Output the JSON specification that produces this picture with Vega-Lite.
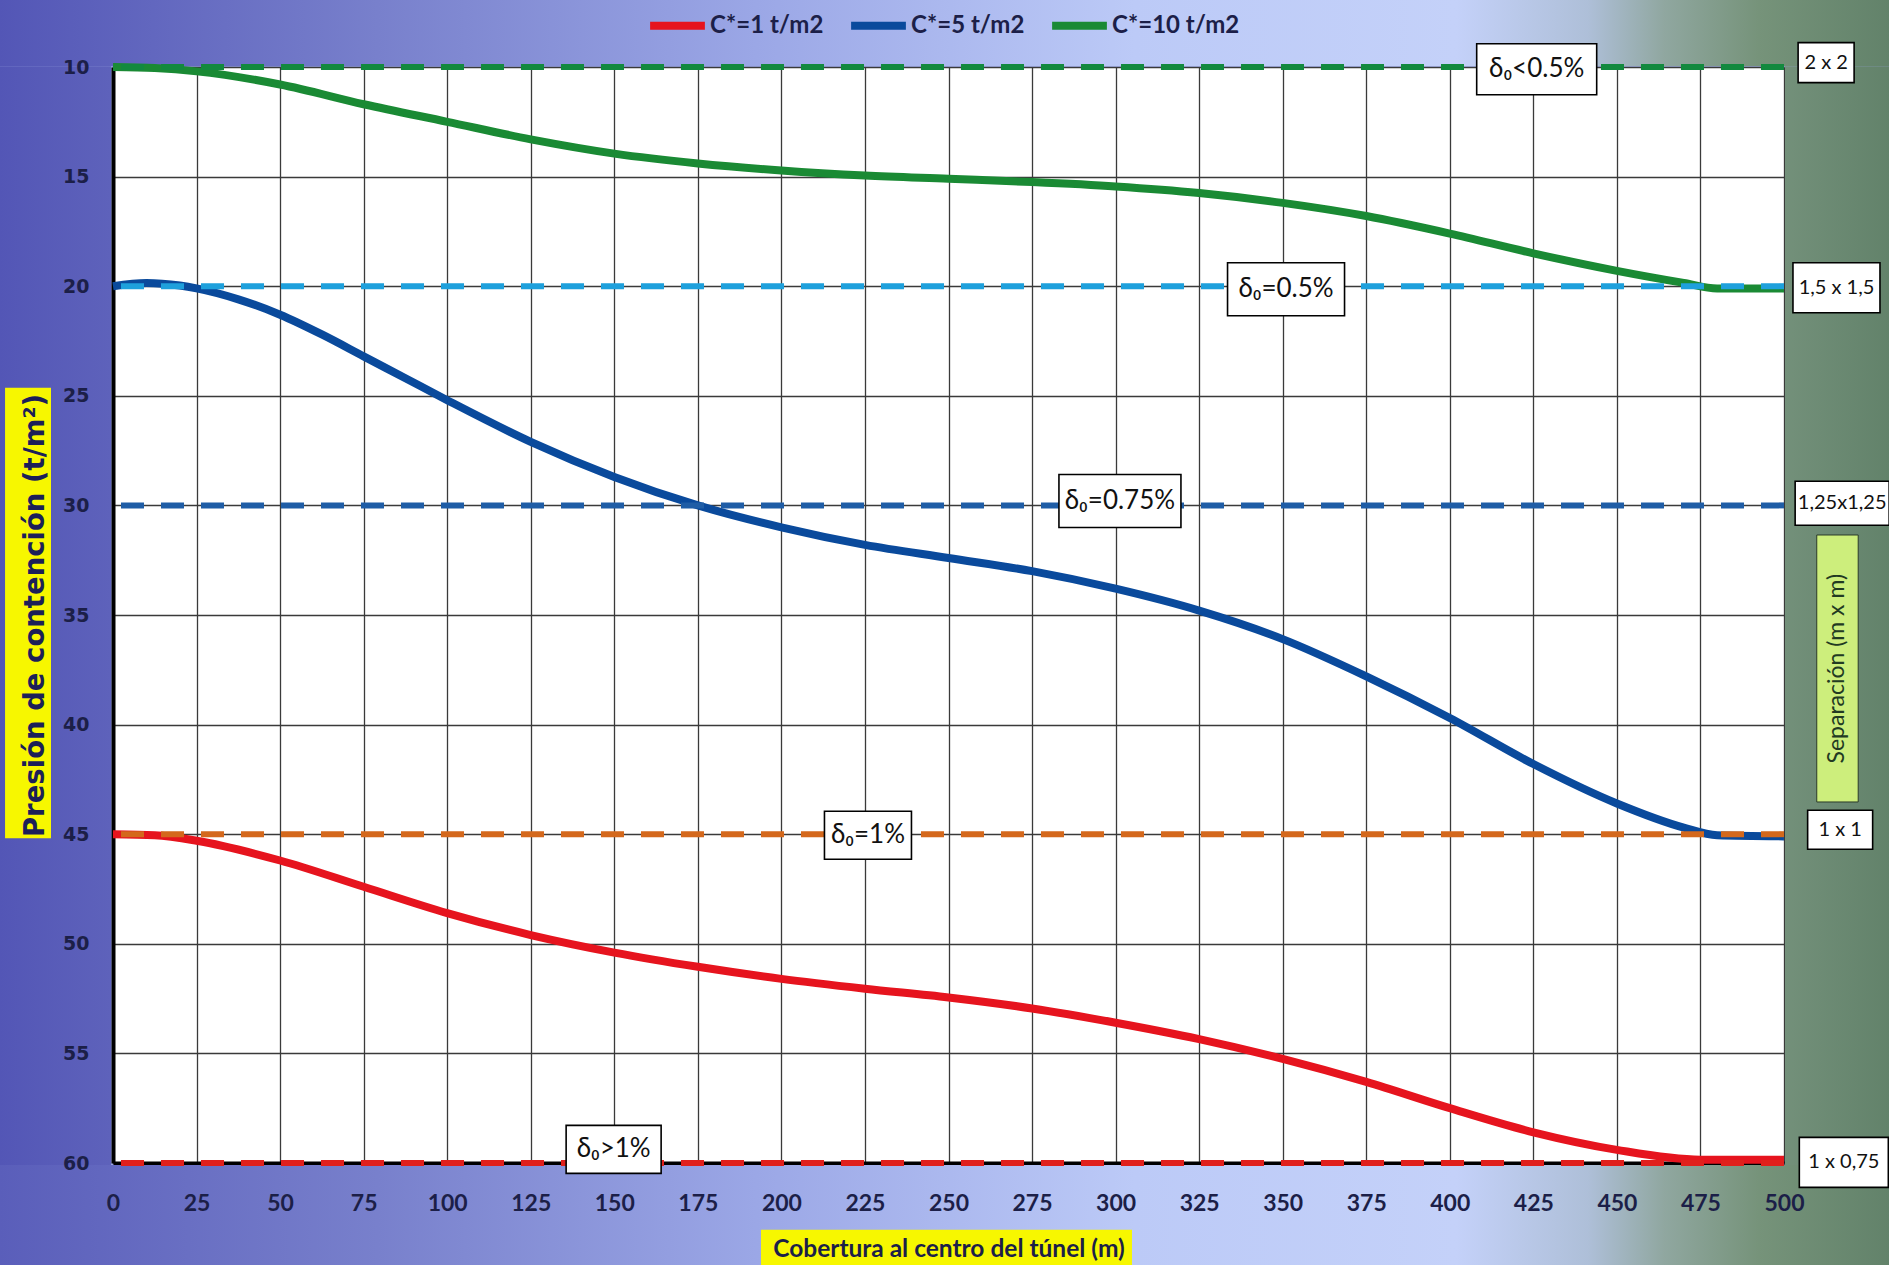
{
  "$schema": "https://vega.github.io/schema/vega-lite/v6.json",
  "width": 1671,
  "height": 1096,
  "autosize": {"type": "none"},
  "padding": {"left": 113, "top": 67, "right": 105, "bottom": 102},
  "background": "#9aa5e3",
  "config": {"view": {"stroke": null, "fill": "white"}, "font": "Lato"},
  "resolve": {"axis": {"x": "independent", "y": "independent"}},
  "datasets": {
    "curvas": [
      {"serie": "C*=1 t/m2", "x": 0, "p": 45.0}, {"serie": "C*=1 t/m2", "x": 12.5, "p": 45.05}, {"serie": "C*=1 t/m2", "x": 25, "p": 45.3},
      {"serie": "C*=1 t/m2", "x": 50, "p": 46.2}, {"serie": "C*=1 t/m2", "x": 75, "p": 47.4}, {"serie": "C*=1 t/m2", "x": 100, "p": 48.6},
      {"serie": "C*=1 t/m2", "x": 125, "p": 49.6}, {"serie": "C*=1 t/m2", "x": 150, "p": 50.4}, {"serie": "C*=1 t/m2", "x": 175, "p": 51.05},
      {"serie": "C*=1 t/m2", "x": 200, "p": 51.6}, {"serie": "C*=1 t/m2", "x": 225, "p": 52.05}, {"serie": "C*=1 t/m2", "x": 250, "p": 52.45},
      {"serie": "C*=1 t/m2", "x": 275, "p": 52.95}, {"serie": "C*=1 t/m2", "x": 300, "p": 53.6}, {"serie": "C*=1 t/m2", "x": 325, "p": 54.35},
      {"serie": "C*=1 t/m2", "x": 350, "p": 55.25}, {"serie": "C*=1 t/m2", "x": 375, "p": 56.3}, {"serie": "C*=1 t/m2", "x": 400, "p": 57.5},
      {"serie": "C*=1 t/m2", "x": 425, "p": 58.6}, {"serie": "C*=1 t/m2", "x": 450, "p": 59.4}, {"serie": "C*=1 t/m2", "x": 475, "p": 59.85},
      {"serie": "C*=1 t/m2", "x": 500, "p": 59.85},
      {"serie": "C*=5 t/m2", "x": 0, "p": 20.0}, {"serie": "C*=5 t/m2", "x": 10, "p": 19.85}, {"serie": "C*=5 t/m2", "x": 20, "p": 19.97},
      {"serie": "C*=5 t/m2", "x": 25, "p": 20.1}, {"serie": "C*=5 t/m2", "x": 37.5, "p": 20.6}, {"serie": "C*=5 t/m2", "x": 50, "p": 21.3},
      {"serie": "C*=5 t/m2", "x": 62.5, "p": 22.2}, {"serie": "C*=5 t/m2", "x": 75, "p": 23.2}, {"serie": "C*=5 t/m2", "x": 87.5, "p": 24.2},
      {"serie": "C*=5 t/m2", "x": 100, "p": 25.2}, {"serie": "C*=5 t/m2", "x": 125, "p": 27.1}, {"serie": "C*=5 t/m2", "x": 150, "p": 28.7},
      {"serie": "C*=5 t/m2", "x": 175, "p": 30.0}, {"serie": "C*=5 t/m2", "x": 200, "p": 31.0}, {"serie": "C*=5 t/m2", "x": 225, "p": 31.8},
      {"serie": "C*=5 t/m2", "x": 250, "p": 32.4}, {"serie": "C*=5 t/m2", "x": 275, "p": 33.0}, {"serie": "C*=5 t/m2", "x": 300, "p": 33.8},
      {"serie": "C*=5 t/m2", "x": 325, "p": 34.8}, {"serie": "C*=5 t/m2", "x": 350, "p": 36.1}, {"serie": "C*=5 t/m2", "x": 375, "p": 37.8},
      {"serie": "C*=5 t/m2", "x": 400, "p": 39.7}, {"serie": "C*=5 t/m2", "x": 425, "p": 41.8}, {"serie": "C*=5 t/m2", "x": 450, "p": 43.6},
      {"serie": "C*=5 t/m2", "x": 470, "p": 44.7}, {"serie": "C*=5 t/m2", "x": 480, "p": 45.05}, {"serie": "C*=5 t/m2", "x": 500, "p": 45.1},
      {"serie": "C*=10 t/m2", "x": 0, "p": 10.0}, {"serie": "C*=10 t/m2", "x": 12.5, "p": 10.05}, {"serie": "C*=10 t/m2", "x": 25, "p": 10.2},
      {"serie": "C*=10 t/m2", "x": 50, "p": 10.8}, {"serie": "C*=10 t/m2", "x": 75, "p": 11.7}, {"serie": "C*=10 t/m2", "x": 100, "p": 12.5},
      {"serie": "C*=10 t/m2", "x": 125, "p": 13.3}, {"serie": "C*=10 t/m2", "x": 150, "p": 13.95}, {"serie": "C*=10 t/m2", "x": 175, "p": 14.4},
      {"serie": "C*=10 t/m2", "x": 200, "p": 14.72}, {"serie": "C*=10 t/m2", "x": 225, "p": 14.95}, {"serie": "C*=10 t/m2", "x": 250, "p": 15.1},
      {"serie": "C*=10 t/m2", "x": 275, "p": 15.25}, {"serie": "C*=10 t/m2", "x": 300, "p": 15.45}, {"serie": "C*=10 t/m2", "x": 325, "p": 15.75},
      {"serie": "C*=10 t/m2", "x": 350, "p": 16.2}, {"serie": "C*=10 t/m2", "x": 375, "p": 16.8}, {"serie": "C*=10 t/m2", "x": 400, "p": 17.6},
      {"serie": "C*=10 t/m2", "x": 425, "p": 18.5}, {"serie": "C*=10 t/m2", "x": 450, "p": 19.3}, {"serie": "C*=10 t/m2", "x": 470, "p": 19.85},
      {"serie": "C*=10 t/m2", "x": 480, "p": 20.1}, {"serie": "C*=10 t/m2", "x": 500, "p": 20.1}
    ],
    "refs": [
      {"nivel": "δ₀<0.5%", "p": 10},
      {"nivel": "δ₀=0.5%", "p": 20},
      {"nivel": "δ₀=0.75%", "p": 30},
      {"nivel": "δ₀=1%", "p": 45},
      {"nivel": "δ₀>1%", "p": 60}
    ],
    "etiquetas": [
      {"grupo": "delta", "texto": "δ₀<0.5%", "x": 426, "p": 10.1},
      {"grupo": "delta", "texto": "δ₀=0.5%", "x": 351, "p": 20.14},
      {"grupo": "delta", "texto": "δ₀=0.75%", "x": 301.3, "p": 29.8},
      {"grupo": "delta", "texto": "δ₀=1%", "x": 225.9, "p": 45.05},
      {"grupo": "delta", "texto": "δ₀>1%", "x": 149.8, "p": 59.38},
      {"grupo": "sep", "texto": "2 x 2", "x": 512.6, "p": 9.8},
      {"grupo": "sep", "texto": "1,5 x 1,5", "x": 515.7, "p": 20.07},
      {"grupo": "sep", "texto": "1,25x1,25", "x": 517.4, "p": 29.9},
      {"grupo": "sep", "texto": "1 x 1", "x": 516.8, "p": 44.8},
      {"grupo": "sep", "texto": "1 x 0,75", "x": 517.9, "p": 59.97}
    ]
  },
  "layer": [
    {
      "data": {"values": [{}]},
      "mark": {"type": "rect", "fill": {"gradient": "linear", "x1": 0, "y1": 0, "x2": 1, "y2": 0, "stops": [
        {"offset": 0, "color": "#5356b6"},
        {"offset": 0.2, "color": "#7880cc"},
        {"offset": 0.4, "color": "#9ba7e6"},
        {"offset": 0.6, "color": "#bccaf7"},
        {"offset": 0.77, "color": "#c4d1f9"},
        {"offset": 0.84, "color": "#aebfd8"},
        {"offset": 0.88, "color": "#90a7a0"},
        {"offset": 0.93, "color": "#76937a"},
        {"offset": 1, "color": "#62826a"}
      ]}},
      "encoding": {
        "x": {"datum": -34, "type": "quantitative", "scale": {"domain": [0, 500], "nice": false, "zero": false}, "axis": null},
        "x2": {"datum": 532},
        "y": {"datum": 6.8, "type": "quantitative", "scale": {"domain": [10, 60], "reverse": true, "nice": false, "zero": false}, "axis": null},
        "y2": {"datum": 9.97}
      }
    },
    {
      "data": {"values": [{}]},
      "mark": {"type": "rect", "fill": {"gradient": "linear", "x1": 0, "y1": 0, "x2": 1, "y2": 0, "stops": [
        {"offset": 0, "color": "#5a5eba"},
        {"offset": 0.2, "color": "#7880cc"},
        {"offset": 0.4, "color": "#9ba7e6"},
        {"offset": 0.6, "color": "#bccaf7"},
        {"offset": 0.77, "color": "#c4d1f9"},
        {"offset": 0.84, "color": "#aebfd8"},
        {"offset": 0.88, "color": "#90a7a0"},
        {"offset": 0.93, "color": "#76937a"},
        {"offset": 1, "color": "#62826a"}
      ]}},
      "encoding": {
        "x": {"datum": -34, "type": "quantitative", "axis": null},
        "x2": {"datum": 532},
        "y": {"datum": 60.09, "type": "quantitative", "axis": null},
        "y2": {"datum": 64.8}
      }
    },
    {
      "data": {"values": [{}]},
      "mark": {"type": "rect", "fill": {"gradient": "linear", "x1": 0, "y1": 0, "x2": 1, "y2": 0, "stops": [
        {"offset": 0, "color": "#5356b6"},
        {"offset": 1, "color": "#5e62bb"}
      ]}},
      "encoding": {
        "x": {"datum": -34, "type": "quantitative", "axis": null},
        "x2": {"datum": -0.6},
        "y": {"datum": 9.97, "type": "quantitative", "axis": null},
        "y2": {"datum": 60.09}
      }
    },
    {
      "data": {"values": [{}]},
      "mark": {"type": "rect", "fill": {"gradient": "linear", "x1": 0, "y1": 0, "x2": 1, "y2": 0, "stops": [
        {"offset": 0, "color": "#73907a"},
        {"offset": 1, "color": "#62826a"}
      ]}},
      "encoding": {
        "x": {"datum": 500.3, "type": "quantitative", "axis": null},
        "x2": {"datum": 532},
        "y": {"datum": 9.97, "type": "quantitative", "axis": null},
        "y2": {"datum": 60.09}
      }
    },
    {
      "data": {"values": [{}]},
      "mark": {"type": "rect", "fill": "#f7f700"},
      "encoding": {
        "x": {"datum": -32.3, "type": "quantitative", "axis": null},
        "x2": {"datum": -18.55},
        "y": {"datum": 24.63, "type": "quantitative", "axis": null},
        "y2": {"datum": 45.18}
      }
    },
    {
      "data": {"values": [{}]},
      "mark": {"type": "rect", "fill": "#f7f700"},
      "encoding": {
        "x": {"datum": 193.9, "type": "quantitative", "axis": null},
        "x2": {"datum": 304.9},
        "y": {"datum": 63.04, "type": "quantitative", "axis": null},
        "y2": {"datum": 66}
      }
    },
    {
      "data": {"values": [{}]},
      "mark": {"type": "rect", "fill": "#cdee7c", "stroke": "#2a3a2a", "strokeWidth": 1},
      "encoding": {
        "x": {"datum": 509.8, "type": "quantitative", "axis": null},
        "x2": {"datum": 522.2},
        "y": {"datum": 31.35, "type": "quantitative", "axis": null},
        "y2": {"datum": 43.53}
      }
    },
    {
      "data": {"name": "curvas"},
      "mark": {"type": "line", "strokeWidth": 8, "interpolate": "monotone"},
      "encoding": {
        "x": {
          "field": "x", "type": "quantitative",
          "axis": {
            "orient": "bottom",
            "values": [0, 25, 50, 75, 100, 125, 150, 175, 200, 225, 250, 275, 300, 325, 350, 375, 400, 425, 450, 475, 500],
            "title": "Cobertura al centro del túnel (m)",
            "grid": false, "ticks": false, "domain": false,
            "labelFont": "Lato", "labelFontWeight": "bold", "labelFontSize": 23, "labelColor": "#1c1f48",
            "labelPadding": 29, "labelFlush": false, "labelOverlap": false,
            "titleFont": "Lato", "titleFontWeight": "bold", "titleFontSize": 24.5, "titleColor": "#1c1f48",
            "titlePadding": 22, "zindex": 1
          }
        },
        "y": {
          "field": "p", "type": "quantitative",
          "axis": {
            "orient": "left",
            "values": [10, 15, 20, 25, 30, 35, 40, 45, 50, 55, 60],
            "title": "Presión de contención (t/m²)",
            "grid": false, "ticks": false, "domain": false,
            "labelFont": "DejaVu Sans", "labelFontWeight": "bold", "labelFontSize": 19, "labelColor": "#1c1f48",
            "labelPadding": 24, "labelFlush": false, "labelOverlap": false,
            "titleFont": "DejaVu Sans", "titleFontWeight": "bold", "titleFontSize": 27.5, "titleColor": "#1c1f58",
            "titlePadding": 13, "zindex": 1
          }
        },
        "color": {
          "field": "serie", "type": "nominal",
          "scale": {"domain": ["C*=1 t/m2", "C*=5 t/m2", "C*=10 t/m2"], "range": ["#e6141e", "#0a4a9c", "#1a8a34"]},
          "legend": {
            "orient": "none", "legendX": 533, "legendY": -73, "direction": "horizontal", "title": null,
            "symbolType": "stroke", "symbolSize": 3000, "symbolStrokeWidth": 8,
            "labelFont": "Lato", "labelFontSize": 24, "labelFontWeight": "bold", "labelColor": "#1c1f48",
            "labelOffset": 1, "columnPadding": 11
          }
        }
      }
    },
    {
      "data": {"name": "refs"},
      "mark": {"type": "rule", "strokeWidth": 6, "strokeDash": [23, 17]},
      "encoding": {
        "y": {"field": "p", "type": "quantitative", "axis": null},
        "stroke": {
          "field": "nivel", "type": "nominal",
          "scale": {"domain": ["δ₀<0.5%", "δ₀=0.5%", "δ₀=0.75%", "δ₀=1%", "δ₀>1%"], "range": ["#12893e", "#1ea0dc", "#1f5da6", "#d4681c", "#e0201c"]},
          "legend": null
        }
      }
    },
    {
      "data": {"name": "etiquetas"},
      "mark": {"type": "point", "filled": true, "fill": "white", "stroke": "black", "strokeWidth": 1.6, "fillOpacity": 1, "strokeOpacity": 1, "size": 2500},
      "encoding": {
        "x": {
          "field": "x", "type": "quantitative",
          "axis": {
            "orient": "bottom",
            "values": [0, 25, 50, 75, 100, 125, 150, 175, 200, 225, 250, 275, 300, 325, 350, 375, 400, 425, 450, 475, 500],
            "grid": true, "gridColor": "#3a3a3a", "gridWidth": 1.3,
            "labels": false, "ticks": false, "domain": true, "domainColor": "#000000", "domainWidth": 4,
            "title": null, "zindex": 0
          }
        },
        "y": {
          "field": "p", "type": "quantitative",
          "axis": {
            "orient": "left",
            "values": [10, 15, 20, 25, 30, 35, 40, 45, 50, 55, 60],
            "grid": true, "gridColor": "#3a3a3a", "gridWidth": 1.3,
            "labels": false, "ticks": false, "domain": true, "domainColor": "#000000", "domainWidth": 4,
            "title": null, "zindex": 0
          }
        },
        "shape": {
          "field": "texto", "type": "nominal", "legend": null,
          "scale": {
            "domain": ["δ₀<0.5%", "δ₀=0.5%", "δ₀=0.75%", "δ₀=1%", "δ₀>1%", "2 x 2", "1,5 x 1,5", "1,25x1,25", "1 x 1", "1 x 0,75"],
            "range": [
              "M-2.4,-1.02H2.4V1.02H-2.4Z",
              "M-2.34,-1.06H2.34V1.06H-2.34Z",
              "M-2.44,-1.06H2.44V1.06H-2.44Z",
              "M-1.74,-0.96H1.74V0.96H-1.74Z",
              "M-1.9,-0.96H1.9V0.96H-1.9Z",
              "M-1.12,-0.8H1.12V0.8H-1.12Z",
              "M-1.74,-1H1.74V1H-1.74Z",
              "M-1.88,-0.88H1.88V0.88H-1.88Z",
              "M-1.3,-0.78H1.3V0.78H-1.3Z",
              "M-1.78,-1H1.78V1H-1.78Z"
            ]
          }
        }
      }
    },
    {
      "data": {"name": "etiquetas"},
      "transform": [{"filter": "datum.grupo === 'delta'"}],
      "mark": {"type": "text", "font": "Lato", "fontSize": 26, "color": "#111111", "align": "center", "baseline": "middle"},
      "encoding": {
        "x": {"field": "x", "type": "quantitative", "axis": null},
        "y": {"field": "p", "type": "quantitative", "axis": null},
        "text": {"field": "texto"}
      }
    },
    {
      "data": {"name": "etiquetas"},
      "transform": [{"filter": "datum.grupo === 'sep'"}],
      "mark": {"type": "text", "font": "Lato", "fontSize": 20, "color": "#111111", "align": "center", "baseline": "middle"},
      "encoding": {
        "x": {"field": "x", "type": "quantitative", "axis": null},
        "y": {"field": "p", "type": "quantitative", "axis": null},
        "text": {"field": "texto"}
      }
    },
    {
      "data": {"values": [{"texto": "Separación (m x m)"}]},
      "mark": {"type": "text", "font": "Lato", "fontSize": 23, "color": "#223a22", "align": "center", "baseline": "middle", "angle": 270},
      "encoding": {
        "x": {"datum": 516.0, "type": "quantitative", "axis": null},
        "y": {"datum": 37.45, "type": "quantitative", "axis": null},
        "text": {"field": "texto"}
      }
    }
  ]
}
